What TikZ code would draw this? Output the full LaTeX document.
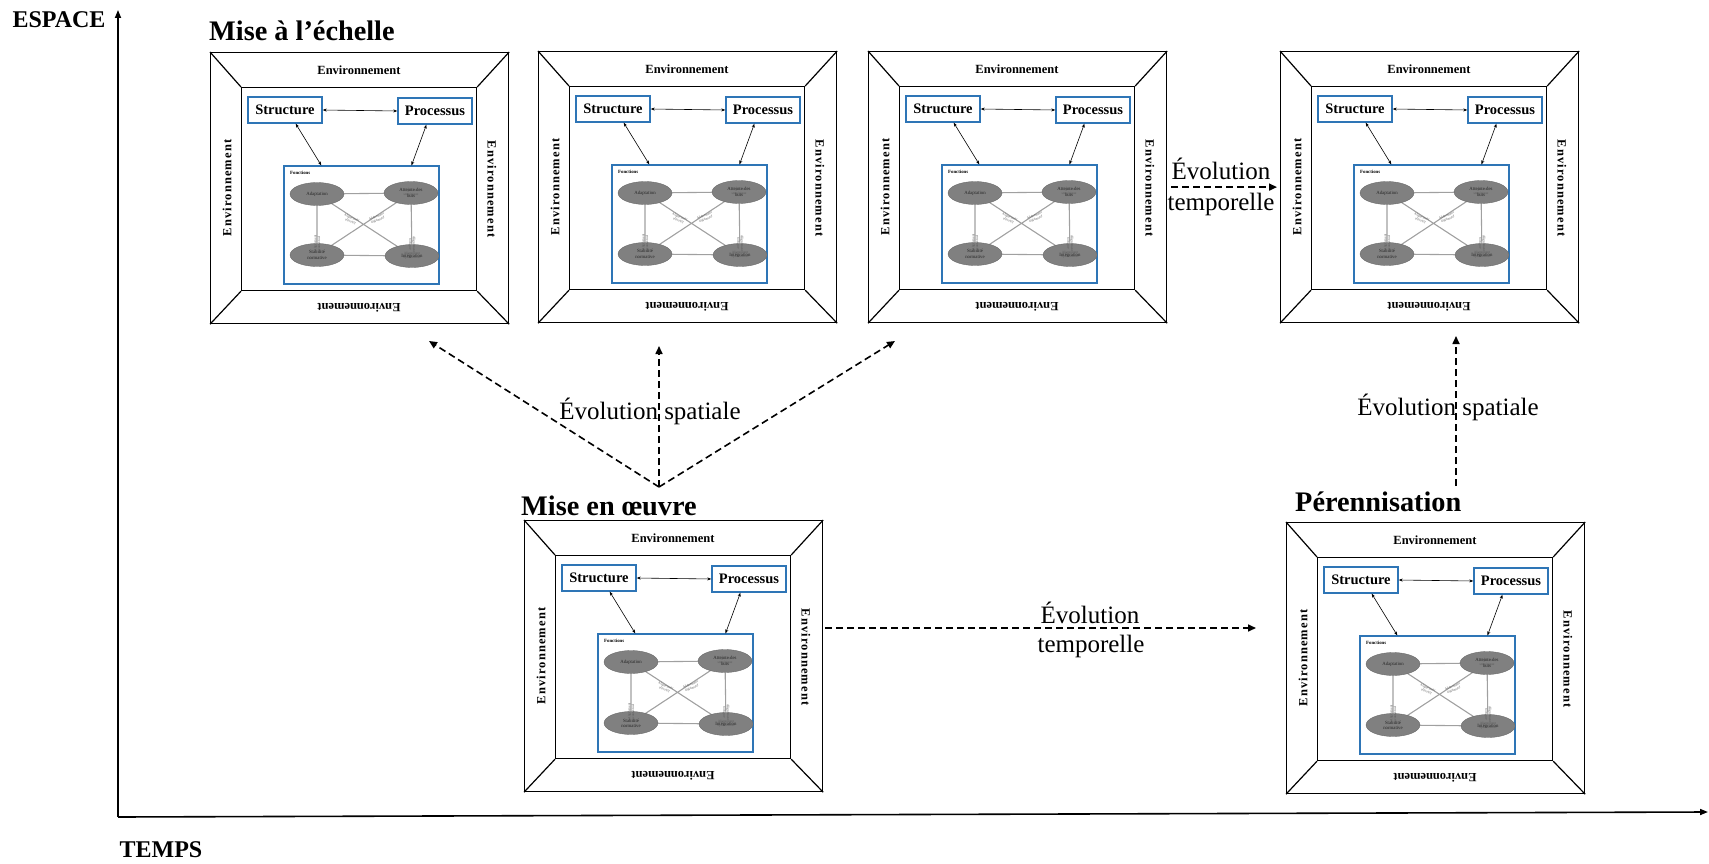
\documentclass[tikz,border=0pt]{standalone}
\usepackage{fontspec}
\setmainfont{Liberation Serif}
\usetikzlibrary{arrows.meta,shapes.geometric,calc}

\definecolor{frameblue}{RGB}{46,117,182}
\definecolor{ovalgray}{RGB}{128,128,128}
\definecolor{linkgray}{RGB}{160,160,160}

\tikzset{
  x=1pt, y=-1pt,
  boxframe/.style={draw=black, line width=1.2pt},
  envlabel/.style={font=\fontsize{12.5}{14}\selectfont\bfseries, inner sep=0},
  envside/.style={envlabel, font=\fontsize{12.5}{14}\selectfont\bfseries\addfontfeature{LetterSpace=9}},
  bluebox/.style={draw=frameblue, line width=1.3pt, fill=white, minimum width=74pt,
    minimum height=26pt, inner sep=0, font=\fontsize{14.5}{16}\selectfont\bfseries},
  fnbox/.style={draw=frameblue, line width=1.1pt, minimum width=155pt,
    minimum height=118pt, inner sep=0},
  oval/.style={ellipse, fill=ovalgray, draw=ovalgray!80!black, line width=0.3pt,
    minimum width=54pt, minimum height=23pt, inner sep=0, align=center,
    font=\fontsize{4.8}{5.3}\selectfont, text=black!85},
  fnlink/.style={draw=linkgray, line width=1.1pt},
  linklabel/.style={font=\fontsize{3.4}{3.8}\selectfont, text=black!65, align=center, inner sep=0.3pt},
  dbl/.style={{Stealth[length=4pt,width=3pt]}-{Stealth[length=4pt,width=3pt]}, line width=0.6pt},
  evol/.style={dash pattern=on 7pt off 4pt, line width=1.6pt, -{Triangle[length=8pt,width=7pt]}},
  evoltext/.style={font=\fontsize{25}{27}\selectfont, inner sep=0},
  stagetitle/.style={font=\fontsize{28.3}{31}\selectfont\bfseries, inner sep=0, anchor=base west},
  axisline/.style={line width=1.6pt, -{Triangle[length=8pt,width=6pt]}},
  axislabel/.style={font=\fontsize{24}{26}\selectfont\bfseries, inner sep=0},
  % one organisation: environment frame, structure, process and the four functions
  envbox/.pic={
    \node[boxframe, anchor=north west, minimum width=298pt, minimum height=271pt, inner sep=0] (-o) at (0,0) {};
    \node[boxframe, anchor=north west, minimum width=235pt, minimum height=203pt, inner sep=0] (-i) at (31,35) {};
    \draw[boxframe] (-o.north west) -- (-i.north west)
                    (-o.north east) -- (-i.north east)
                    (-o.south west) -- (-i.south west)
                    (-o.south east) -- (-i.south east);
    \node[envlabel] (-en) at (149,18) {Environnement};
    \node[envside, rotate=90] (-ew) at (17,136) {Environnement};
    \node[envside, rotate=-90] (-ee) at (282,137) {Environnement};
    \node[envlabel, rotate=180] (-es) at (149,256) {Environnement};
    \node[bluebox] (-s) at (75,58) {Structure};
    \node[bluebox] (-p) at (225,59) {Processus};
    \node[fnbox] (-f) at (151.5,173) {};
    \draw[dbl] (-s.east) -- (-p.west);
    \draw[dbl] (-s.-52) -- (-f.124);
    \draw[dbl] (-p.-122) -- (-f.50);
    \node[font=\fontsize{4.8}{5}\selectfont\bfseries, anchor=west, inner sep=0] (-ft) at (80,121) {Fonctions};
    \draw[fnlink] (107,142) -- (107,203) (201,141) -- (202,204)
                  (107,142) -- (202,204) (201,141) -- (107,203);
    \node[oval] (-a) at (107,142) {Adaptation};
    \node[oval] (-g) at (201,141) {Atteinte des\\buts};
    \node[oval] (-n) at (107,203) {Stabilité\\normative};
    \node[oval] (-t) at (202,204) {Intégration};
    \draw[fnlink] (-a) -- node[linklabel]{Alignement\\stratégique} (-g);
    \draw[fnlink] (-n) -- node[linklabel]{Alignement\\opérationnel} (-t);
    \path (-a.south) -- node[linklabel, rotate=90]{Alignement\\contextuel} (-n.north);
    \path (-g.south) -- node[linklabel, rotate=-90]{Alignement\\tactique} (-t.north);
    \path (-a.south) -- node[linklabel, sloped, pos=0.36]{Alignement\\allocatif} (-t.north);
    \path (-g.south) -- node[linklabel, sloped, pos=0.36]{Alignement\\légitimatif} (-n.north);
  }
}

\begin{document}
\begin{tikzpicture}
\useasboundingbox (0,0) rectangle (1709,864);

% axes
\coordinate (origin) at (118,817);
\coordinate (ytip) at (118,10);
\coordinate (xtip) at (1708,812);
\draw[axisline] (origin) -- (ytip);
\draw[axisline] (origin) -- (xtip);
\node[axislabel] (esp) at (59,20) {ESPACE};
\node[axislabel] (tps) at (161,850) {TEMPS};

% organisations
\pic (b1) at (210,52) {envbox};
\pic (b2) at (538,51) {envbox};
\pic (b3) at (868,51) {envbox};
\pic (b4) at (1280,51) {envbox};
\pic (b5) at (524,520) {envbox};
\pic (b6) at (1286,522) {envbox};

% stage titles
\node[stagetitle] (t1) at (209,41) {Mise à l’échelle};
\node[stagetitle] (t5) at (521,515) {Mise en œuvre};
\node[stagetitle] (t6) at (1295,511) {Pérennisation};

% spatial evolution from the implementation
\coordinate (apex) at (659,487);
\coordinate (tipL) at (429,341);
\coordinate (tipC) at (659,346);
\coordinate (tipR) at (895,341);
\draw[evol] (apex) -- (tipL);
\draw[evol] (apex) -- (tipC);
\draw[evol] (apex) -- (tipR);
\node[evoltext] (lsp) at (650,411) {Évolution spatiale};

% spatial evolution from sustainability
\coordinate (up0) at (1456,486);
\coordinate (up1) at (1456,336);
\draw[evol] (up0) -- (up1);
\node[evoltext] (rsp) at (1448,407) {Évolution spatiale};

% temporal evolution, top row
\draw[evol, shorten <=4pt, shorten >=3pt] (b3-o.east) -- (b4-o.west);
\node[evoltext] (tt1) at (1221,169) {Évolution};
\node[evoltext] (tt2) at (1221,204) {temporelle};

% temporal evolution, bottom row
\coordinate (bt0) at (825,628);
\coordinate (bt1) at (1256,628);
\draw[evol] (bt0) -- (bt1);
\node[evoltext] (bt3) at (1090,613) {Évolution};
\node[evoltext] (bt4) at (1091,646) {temporelle};
\end{tikzpicture}
\end{document}
